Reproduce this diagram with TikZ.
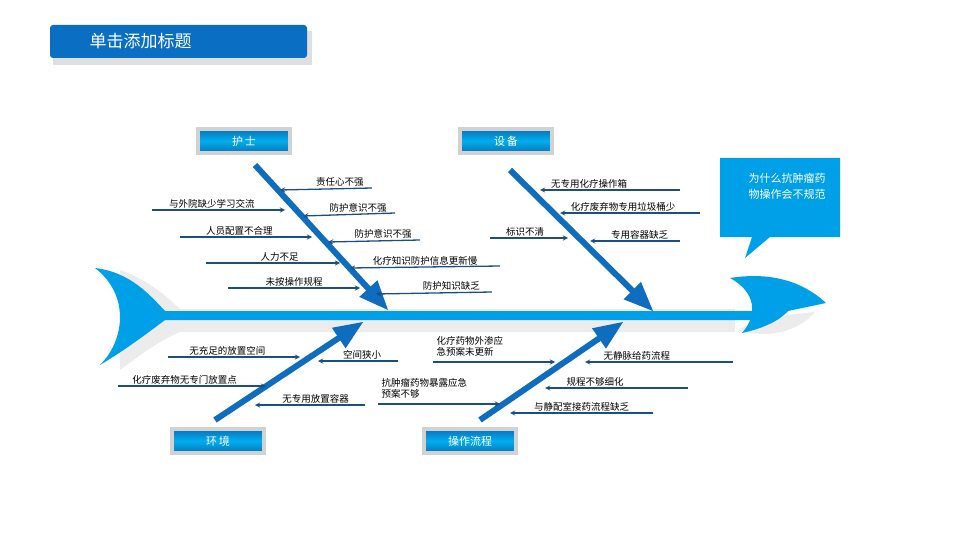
\documentclass[tikz,border=0pt]{standalone}
\usepackage{fontspec}
\setmainfont{Noto Sans CJK SC}
\usetikzlibrary{arrows}
\definecolor{fishblue}{HTML}{00A0E9}
\definecolor{bonecol}{HTML}{0F6DBF}
\definecolor{smallcol}{HTML}{1B4F80}
\definecolor{boxtop}{HTML}{0A72B8}
\definecolor{boxmid}{HTML}{00AEEF}
\definecolor{titlecol}{HTML}{0A6EC2}
\tikzset{
    cat/.style={draw=gray!35, line width=4pt, fill=white, inner sep=0pt,
        minimum width=92pt, minimum height=24pt, font=\fontsize{11}{13}\selectfont, text=white,
        path picture={\shade[top color=boxtop, bottom color=boxtop, middle color=boxmid]
            ([xshift=2pt,yshift=-2pt]path picture bounding box.north west) rectangle
            ([xshift=-2pt,yshift=2pt]path picture bounding box.south east);}},
    bone/.style={bonecol, line width=6pt, -triangle 45},
    cause/.style={smallcol, line width=1.3pt, -stealth},
    lbl/.style={font=\fontsize{9.5}{11.5}\selectfont, text=black, inner sep=1.5pt, align=left}
}
\begin{document}
\begin{tikzpicture}[x=1pt, y=-1pt]
        \useasboundingbox (0,0) rectangle (960,540);

        % title
        \fill[gray!25] (53,31) rectangle (312,65);
        \fill[titlecol, rounded corners=3pt] (50,25) rectangle (307,58);
        \node[text=white, anchor=west, font=\fontsize{17}{20}\selectfont] (title) at (86,41.5) {单击添加标题};

        % fish body
        \fill[gray!15] (120,270) .. controls (150,280) and (170,300) .. (180,309) -- (735,309)
              -- (735,332) -- (180,332)
              .. controls (160,340) and (140,355) .. (120,370) -- cycle;
        \fill[gray!15] (738,330) .. controls (770,340) and (800,330) .. (815,312) -- (760,318) -- cycle;
        \fill[fishblue] (95,268) .. controls (130,272) and (150,295) .. (165,311) -- (760,311)
              -- (760,320) -- (165,320) .. controls (145,335) and (125,350) .. (100,365)
              .. controls (125,340) and (130,295) .. (95,268) -- cycle;
        \fill[fishblue] (730,278) .. controls (780,270) and (810,288) .. (826,303)
              -- (788,311) .. controls (780,320) and (765,328) .. (742,333)
              .. controls (758,315) and (756,292) .. (730,278) -- cycle;

        % callout
        \fill[fishblue] (720,158) -- (840,158) -- (840,237) -- (770,237) -- (745,258)
              -- (752,237) -- (720,237) -- cycle;
        \node[text=white, align=center, font=\fontsize{11}{16}\selectfont] (question) at (787,186)
              {为什么抗肿瘤药\\物操作会不规范};

        % categories
        \node[cat] (nurse) at (244,141) {护\,士};
        \node[cat] (equip) at (506,141) {设\,备};
        \node[cat] (envir) at (218,441) {环\,境};
        \node[cat] (proc) at (470,441) {操作流程};

        \coordinate (N0) at (255,165);  \coordinate (N1) at (388,310);
        \coordinate (E0) at (510,170);  \coordinate (E1) at (653,311);
        \coordinate (V0) at (215,420);  \coordinate (V1) at (363,322);
        \coordinate (P0) at (480,420);  \coordinate (P1) at (623,322);
        \draw[bone] (N0) -- (N1);
        \draw[bone] (E0) -- (E1);
        \draw[bone] (V0) -- (V1);
        \draw[bone] (P0) -- (P1);

        % causes, nurse
        \draw[cause] (372,188) -- (280,190) node[lbl, pos=0.35, above] (n1) {责任心不强};
        \draw[cause] (395,213) -- (303,216) node[lbl, pos=0.4, above] (n2) {防护意识不强};
        \draw[cause] (420,240) -- (328,242) node[lbl, pos=0.4, above] (n3) {防护意识不强};
        \draw[cause] (500,266) -- (350,268) node[lbl, pos=0.5, above] (n4) {化疗知识防护信息更新慢};
        \draw[cause] (492,292) -- (376,294) node[lbl, pos=0.35, above] (n5) {防护知识缺乏};
        \draw[cause] (152,210) -- (285,210) node[lbl, pos=0.45, above] (n6) {与外院缺少学习交流};
        \draw[cause] (180,237) -- (312,237) node[lbl, pos=0.45, above] (n7) {人员配置不合理};
        \draw[cause] (206,263) -- (340,263) node[lbl, pos=0.55, above] (n8) {人力不足};
        \draw[cause] (228,288) -- (360,288) node[lbl, pos=0.5, above] (n9) {未按操作规程};

        % causes, equipment
        \draw[cause] (680,190) -- (540,190) node[lbl, pos=0.65, above] (e1) {无专用化疗操作箱};
        \draw[cause] (700,213) -- (560,213) node[lbl, pos=0.55, above] (e2) {化疗废弃物专用垃圾桶少};
        \draw[cause] (680,241) -- (590,241) node[lbl, pos=0.45, above] (e3) {专用容器缺乏};
        \draw[cause] (490,238) -- (568,238) node[lbl, pos=0.45, above] (e4) {标识不清};

        % causes, environment
        \draw[cause] (168,357) -- (300,357) node[lbl, pos=0.45, above] (v1) {无充足的放置空间};
        \draw[cause] (398,361) -- (318,361) node[lbl, pos=0.45, above] (v2) {空间狭小};
        \draw[cause] (118,386) -- (266,386) node[lbl, pos=0.45, above] (v3) {化疗废弃物无专门放置点};
        \draw[cause] (365,405) -- (255,405) node[lbl, pos=0.45, above] (v4) {无专用放置容器};

        % causes, process
        \draw[cause] (433,362) -- (555,362);
        \node[lbl, anchor=south west] (p1) at (435,358) {化疗药物外渗应\\急预案未更新};
        \draw[cause] (378,404) -- (500,404);
        \node[lbl, anchor=south west] (p2) at (380,400) {抗肿瘤药物暴露应急\\预案不够};
        \draw[cause] (733,362) -- (585,362) node[lbl, pos=0.65, above] (p3) {无静脉给药流程};
        \draw[cause] (688,388) -- (545,388) node[lbl, pos=0.65, above] (p4) {规程不够细化};
        \draw[cause] (653,413) -- (510,413) node[lbl, pos=0.5, above] (p5) {与静配室接药流程缺乏};
    \end{tikzpicture}
\end{document}
